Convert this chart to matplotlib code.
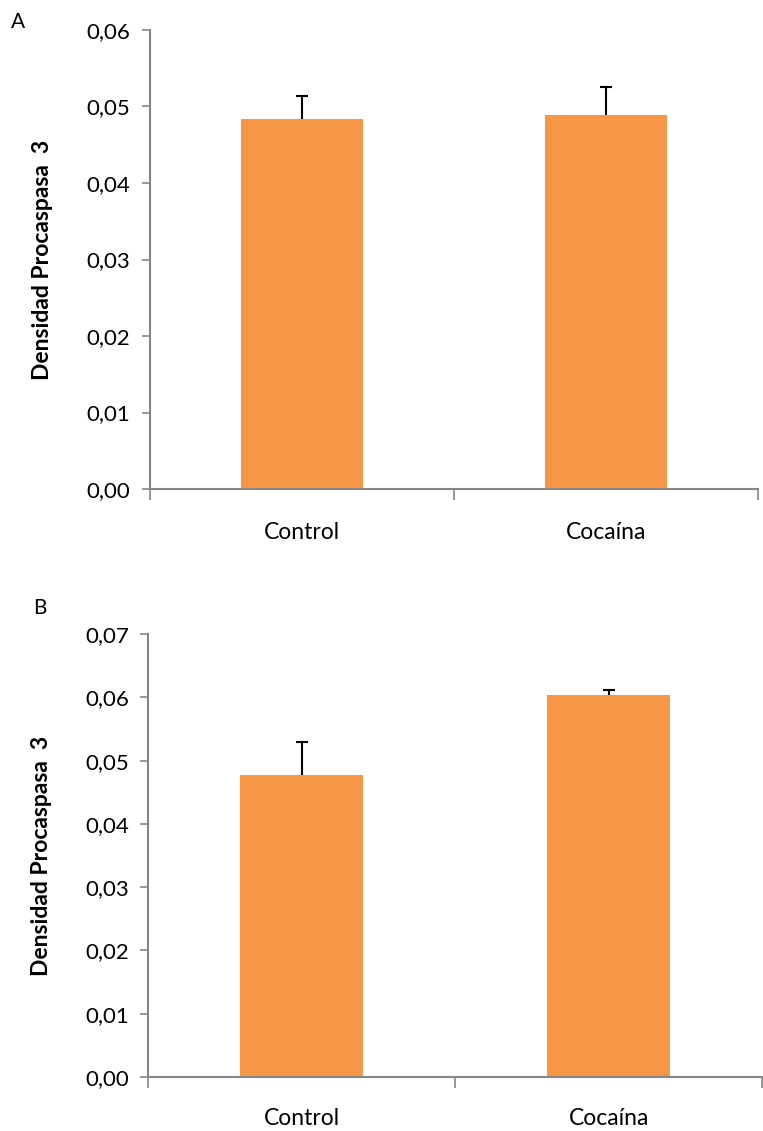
import matplotlib
matplotlib.use("Agg")
from matplotlib import pyplot as plt

# datos
grupos = ['Control', 'Cocaína']
densidad_a = [0.0484, 0.0489]
error_a = [0.0030, 0.0036]
densidad_b = [0.0478, 0.0604]
error_b = [0.0052, 0.0008]

yticks_a = [0.00, 0.01, 0.02, 0.03, 0.04, 0.05, 0.06]
yticks_b = [0.00, 0.01, 0.02, 0.03, 0.04, 0.05, 0.06, 0.07]

plt.rcParams['font.family'] = ['Lato', 'DejaVu Sans']

color_barra = '#F79646'
color_eje = '#868686'

fig = plt.figure(figsize=(7.63, 11.31), dpi=100)
ax1 = fig.add_axes([0.1966, 0.5676, 0.7968, 0.4059])
ax2 = fig.add_axes([0.1946, 0.0477, 0.8040, 0.3917])


def dibujar(ax, valores, errores, yticks, pad_x):
    x = range(len(grupos))
    ax.bar(x, valores, width=0.4, color=color_barra, zorder=2)
    eb = ax.errorbar(x, valores, yerr=[[0] * len(errores), errores],
                     fmt='none', ecolor='black', elinewidth=1.5, capsize=4.5,
                     capthick=1.5, zorder=3)
    # solo la tapa superior
    eb[1][0].set_visible(False)
    ax.set_xlim(-0.5, len(grupos) - 0.5)
    ax.set_ylim(yticks[0], yticks[-1])
    ax.set_yticks(yticks)
    ax.set_yticklabels([('%.2f' % t).replace('.', ',') for t in yticks],
                       fontsize=16)
    ax.set_xticks([i - 0.5 for i in range(len(grupos) + 1)])
    ax.set_xticklabels([])
    ax.set_xticks(list(x), minor=True)
    ax.set_xticklabels(grupos, minor=True, fontsize=16.5)
    ax.tick_params(axis='x', which='minor', length=0, pad=pad_x)
    ax.tick_params(axis='x', which='major', length=8, width=1.2,
                   color=color_eje, direction='out')
    ax.tick_params(axis='y', length=6, width=1.2, color=color_eje, pad=8)
    for s in ['top', 'right']:
        ax.spines[s].set_visible(False)
    for s in ['left', 'bottom']:
        ax.spines[s].set_color(color_eje)
        ax.spines[s].set_linewidth(1.5)
    ax.set_ylabel('Densidad Procaspasa  3', fontsize=16.5, fontweight='bold',
                  labelpad=24)


dibujar(ax1, densidad_a, error_a, yticks_a, 24)
dibujar(ax2, densidad_b, error_b, yticks_b, 22)

fig.text(0.0236, 0.9805, 'A', fontsize=15, va='center', ha='center')
fig.text(0.0524, 0.4624, 'B', fontsize=15, va='center', ha='center')

fig.savefig('out.png', dpi=100)
